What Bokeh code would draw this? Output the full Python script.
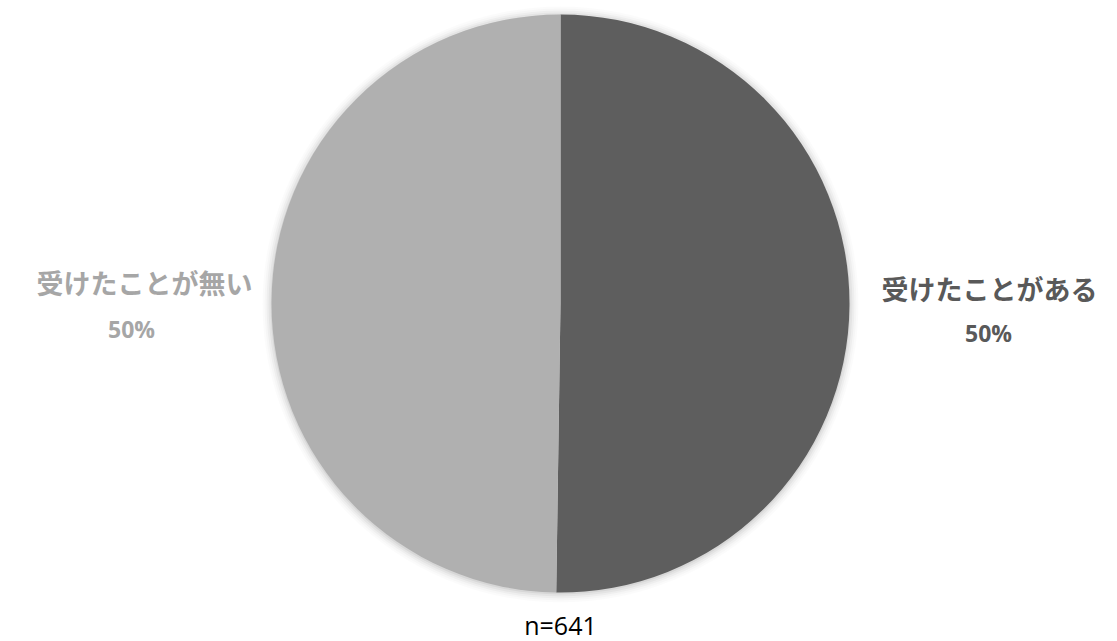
import numpy as np
from bokeh.plotting import figure
from bokeh.models import ColumnDataSource, Range1d
from bokeh.core.properties import value
from bokeh.embed import file_html
from bokeh.resources import INLINE

categories = ["受けたことがある", "受けたことが無い"]
counts = [322, 319]
colors = ["#5e5e5e", "#b0b0b0"]
label_colors = ["#595959", "#a6a6a6"]
n_label = "n=641"

W, H = 1117, 641
p = figure(width=W, height=H, output_backend="svg", toolbar_location=None,
           x_range=Range1d(0, W), y_range=Range1d(0, H), min_border=0,
           border_fill_color="white", background_fill_color="white")
p.axis.visible = False
p.grid.visible = False
p.outline_line_color = None

cx, cy, r = 560, 338, 289

# soft shadow
for i, a in enumerate([0.05, 0.04, 0.03, 0.02, 0.015]):
    p.circle(x=[cx], y=[cy - 1], radius=r + 1 + i * 2, fill_color="black",
             fill_alpha=a, line_color=None)

total = sum(counts)
fracs = np.array(counts) / total
ends = np.pi / 2 - np.concatenate([[0], np.cumsum(fracs)[:-1]]) * 2 * np.pi
starts = ends - fracs * 2 * np.pi
src = ColumnDataSource(dict(start=starts, end=ends, color=colors))
p.wedge(x=cx, y=cy, radius=r, start_angle="start", end_angle="end",
        fill_color="color", line_color=None, source=src)

pcts = [f"{round(f * 100)}%" for f in fracs]
label_pos = [(989, 353), (144, 359)]
pct_pos = [(988, 309), (131, 313)]
for (lx, ly), (px, py), cat, pc, col in zip(label_pos, pct_pos, categories, pcts, label_colors):
    p.text(x=[lx], y=[ly], text=[cat], text_align="center", text_baseline="middle",
           text_font=value("Noto Sans CJK JP"), text_font_style="bold",
           text_font_size="27px", text_color=col)
    p.text(x=[px], y=[py], text=[pc], text_align="center", text_baseline="middle",
           text_font=value("Open Sans"), text_font_style="bold",
           text_font_size="23px", text_color=col)

p.text(x=[cx], y=[17], text=[n_label], text_align="center", text_baseline="middle",
       text_font=value("Open Sans"), text_font_size="25px", text_color="black")

open("out.html", "w").write(file_html(p, INLINE))
